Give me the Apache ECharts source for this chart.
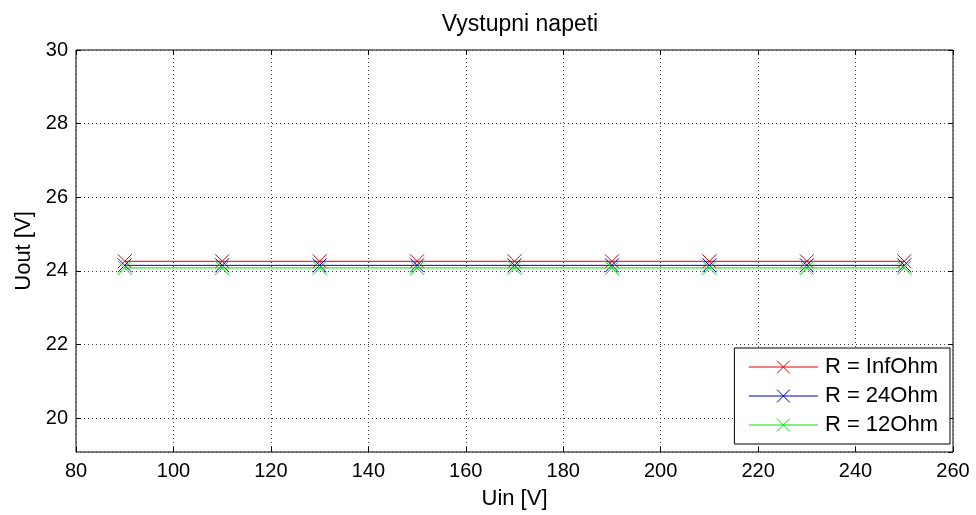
<!DOCTYPE html>
<html>
<head>
<meta charset="utf-8">
<script src="https://cdn.jsdelivr.net/npm/echarts@6/dist/echarts.min.js"></script>
<style>html,body{margin:0;padding:0;background:#fff}#c{width:976px;height:515px}</style>
</head>
<body>
<div id="c"></div>
<script>
const uin = [90, 110, 130, 150, 170, 190, 210, 230, 250];
const rInf = [24.26, 24.26, 24.26, 24.26, 24.26, 24.26, 24.26, 24.26, 24.26];
const r24 = [24.15, 24.15, 24.15, 24.15, 24.15, 24.15, 24.15, 24.15, 24.15];
const r12 = [24.08, 24.08, 24.08, 24.08, 24.08, 24.08, 24.08, 24.08, 24.08];
const seriesNames = ['R = InfOhm', 'R = 24Ohm', 'R = 12Ohm'];
const seriesColors = ['#dd0000', '#0000cc', '#00e000'];
const seriesData = [rInf, r24, r12];

const FONT = 'Liberation Sans, Arial, sans-serif';
const chart = echarts.init(document.getElementById('c'), null, {renderer: 'canvas'});
const crossPath = 'path://M0 0L10 10M10 0L0 10';

const gridLine = {show: true, lineStyle: {color: '#444', type: [1, 3], width: 1}};
const tickIn = {show: true, inside: true, length: 5, lineStyle: {color: '#000'}};

chart.setOption({
  animation: false,
  backgroundColor: '#fff',
  title: {
    text: 'Vystupni napeti',
    left: 515, top: 8, textAlign: 'center',
    textStyle: {fontFamily: FONT, fontSize: 23, fontWeight: 'normal', color: '#000'}
  },
  grid: {left: 76, right: 23, top: 50, bottom: 62, show: true, borderColor: '#000', borderWidth: 1, containLabel: false},
  legend: {
    data: seriesNames,
    orient: 'vertical',
    right: 26, bottom: 71,
    backgroundColor: '#fff',
    borderColor: '#000', borderWidth: 1, borderRadius: 0,
    padding: [8, 12, 8, 14],
    itemWidth: 69, itemHeight: 16, itemGap: 7,
    lineStyle: {width: 1},
    itemStyle: {borderWidth: 1},
    textStyle: {fontFamily: FONT, fontSize: 22, color: '#000', lineHeight: 20, padding: [0, 0, 0, 2]}
  },
  xAxis: [{
    type: 'value', min: 80, max: 260, interval: 20,
    name: 'Uin [V]', nameLocation: 'middle', nameGap: 36,
    nameTextStyle: {fontFamily: FONT, fontSize: 22, color: '#000'},
    axisLine: {show: false}, axisTick: tickIn,
    axisLabel: {fontFamily: FONT, fontSize: 20, color: '#000', margin: 9},
    splitLine: gridLine
  }, {
    type: 'value', min: 80, max: 260, interval: 20, position: 'top',
    axisLine: {show: false}, axisTick: tickIn, axisLabel: {show: false}, splitLine: {show: false}
  }],
  yAxis: [{
    type: 'value', min: 19.08, max: 30, splitNumber: 5,
    name: 'Uout [V]', nameLocation: 'middle', nameGap: 41,
    nameTextStyle: {fontFamily: FONT, fontSize: 22, color: '#000'},
    axisLine: {show: false}, axisTick: tickIn,
    axisLabel: {fontFamily: FONT, fontSize: 20, color: '#000', margin: 8, showMinLabel: false},
    splitLine: gridLine
  }, {
    type: 'value', min: 19.08, max: 30, splitNumber: 5, position: 'right',
    axisLine: {show: false}, axisTick: tickIn, axisLabel: {show: false}, splitLine: {show: false}
  }],
  series: seriesNames.map((n, i) => ({
    name: n,
    type: 'line',
    data: uin.map((x, j) => [x, seriesData[i][j]]),
    symbol: crossPath,
    symbolSize: 14,
    showSymbol: true,
    lineStyle: {color: seriesColors[i], width: 1},
    itemStyle: {color: seriesColors[i], borderColor: seriesColors[i], borderWidth: 1},
    emphasis: {disabled: true},
    z: 2 + i
  }))
});
</script>
</body>
</html>
